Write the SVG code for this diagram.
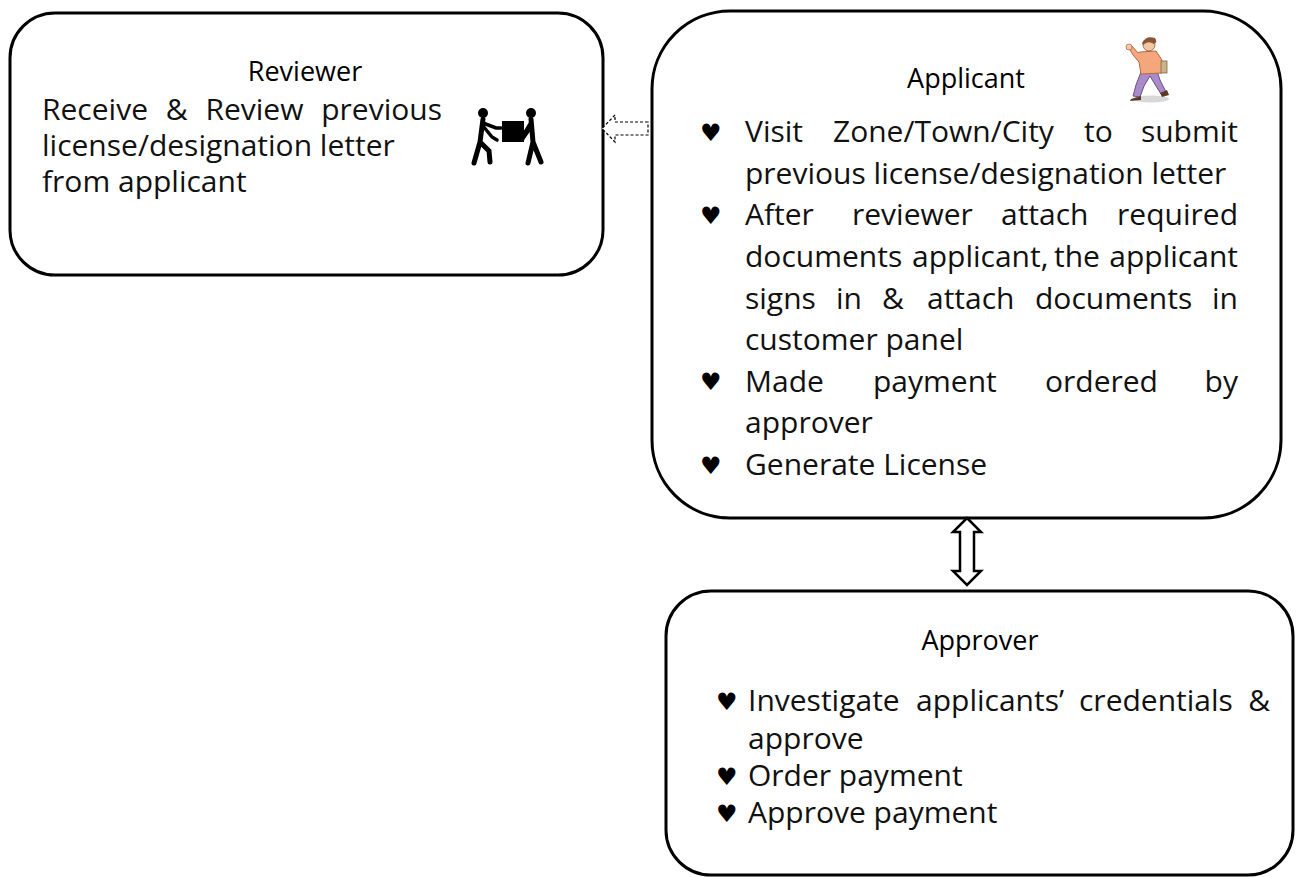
<svg xmlns="http://www.w3.org/2000/svg" width="1298" height="877" viewBox="0 0 1298 877">
  <style>
    .box { fill: #ffffff; stroke: #000000; stroke-width: 3; }
    .title { font-family: "Open Sans", "DejaVu Sans", sans-serif; font-size: 27px; fill: #000; text-anchor: middle; }
    .body { font-family: "Open Sans", "DejaVu Sans", sans-serif; font-size: 30px; fill: #111; }
    .end { text-anchor: end; }
    .bullet { font-family: "DejaVu Sans", sans-serif; font-size: 24px; fill: #000; }
    .dashed { fill: #ffffff; stroke: #000; stroke-width: 1.2; stroke-dasharray: 3 2; }
    .hollow { fill: #ffffff; stroke: #000; stroke-width: 2.5; stroke-linejoin: miter; }
  </style>
  <rect width="1298" height="877" fill="#ffffff"/>

  <!-- Reviewer -->
  <g id="reviewer">
    <rect class="box" x="10" y="13" width="593" height="262" rx="45" ry="45"/>
    <text class="title" x="305" y="81">Reviewer</text>
    <text class="body" x="42" y="120" word-spacing="10">Receive &amp; Review previous</text>
    <text class="body" x="42" y="156">license/designation letter</text>
    <text class="body" x="42" y="192">from applicant</text>
    <!-- two people carrying a box -->
    <g fill="#000" stroke="#000" stroke-linecap="round">
      <circle cx="483" cy="113" r="5" stroke="none"/>
      <circle cx="531" cy="113" r="5" stroke="none"/>
      <rect x="502" y="121" width="22" height="21" stroke="none"/>
      <path d="M483 119 L480 142 L474 163 M480 142 L489 151 L490 162" fill="none" stroke-width="5"/>
      <path d="M483 123 L496 128 L501 128 M483 126 L492 137 L497 140" fill="none" stroke-width="3.5"/>
      <path d="M531 119 L533 142 L528 163 M533 142 L541 162" fill="none" stroke-width="5"/>
      <path d="M530 124 L524 134 L520 140 M531 127 L522 140" fill="none" stroke-width="3.5"/>
    </g>
  </g>

  <!-- Applicant -->
  <g id="applicant">
    <rect class="box" x="652" y="11" width="629" height="507" rx="78" ry="78"/>
    <text class="title" x="966" y="88">Applicant</text>
    <!-- walking man -->
    <g>
      <ellipse cx="1151" cy="99" rx="18" ry="3.5" fill="#d8d8d8"/>
      <path d="M1141 72 L1136 85 L1133 96 L1140 97 L1144 86 L1150 76 L1156 86 L1161 94 L1166 92 L1160 80 L1157 71 Z" fill="#a98bc9" stroke="#6b4f8a" stroke-width="1"/>
      <path d="M1131 99 L1141 96 L1141 100 L1130 101 Z" fill="#5a3a25"/>
      <path d="M1160 93 L1167 90 L1169 95 L1162 97 Z" fill="#5a3a25"/>
      <path d="M1140 52 L1156 51 L1162 60 L1162 73 L1141 74 L1139 62 L1133 55 L1129 48 L1132 46 L1138 53 Z" fill="#f4a77d" stroke="#b8683d" stroke-width="1"/>
      <rect x="1161" y="61" width="6" height="12" fill="#c9b48a" stroke="#7d6a45" stroke-width="0.8"/>
      <circle cx="1129" cy="47" r="3" fill="#f6c9a8" stroke="#b07050" stroke-width="0.8"/>
      <circle cx="1149" cy="45" r="6" fill="#f2c6a3" stroke="#8a5a3a" stroke-width="0.8"/>
      <path d="M1142 43 Q1146 35 1155 38 Q1158 42 1154 44 Q1148 40 1143 45 Z" fill="#8a5536"/>
    </g>
    <g class="bullet">
      <text x="700" y="141">♥</text>
      <text x="700" y="224">♥</text>
      <text x="700" y="390">♥</text>
      <text x="700" y="474">♥</text>
    </g>
    <g class="body">
      <text x="745" y="142">Visit</text>
      <text x="833" y="142">Zone/Town/City</text>
      <text x="1084" y="142">to</text>
      <text class="end" x="1238" y="142">submit</text>
      <text x="745" y="184">previous license/designation letter</text>
      <text x="745" y="225">After</text>
      <text x="852" y="225">reviewer</text>
      <text x="1001" y="225">attach</text>
      <text class="end" x="1238" y="225">required</text>
      <text x="745" y="267">documents</text>
      <text x="912" y="267">applicant,</text>
      <text x="1054" y="267">the</text>
      <text class="end" x="1238" y="267">applicant</text>
      <text x="745" y="309">signs</text>
      <text x="836" y="309">in</text>
      <text x="882" y="309">&amp;</text>
      <text x="927" y="309">attach</text>
      <text x="1035" y="309">documents</text>
      <text class="end" x="1238" y="309">in</text>
      <text x="745" y="350">customer panel</text>
      <text x="745" y="392">Made</text>
      <text x="873" y="392">payment</text>
      <text x="1045" y="392">ordered</text>
      <text class="end" x="1238" y="392">by</text>
      <text x="745" y="433">approver</text>
      <text x="745" y="475">Generate License</text>
    </g>
  </g>

  <!-- Approver -->
  <g id="approver">
    <rect class="box" x="666" y="591" width="627" height="284" rx="45" ry="45"/>
    <text class="title" x="980" y="650">Approver</text>
    <g class="bullet">
      <text x="716" y="710">♥</text>
      <text x="716" y="785">♥</text>
      <text x="716" y="822">♥</text>
    </g>
    <g class="body">
      <text x="748" y="711">Investigate</text>
      <text x="916" y="711">applicants’</text>
      <text x="1079" y="711">credentials</text>
      <text class="end" x="1270" y="711">&amp;</text>
      <text x="748" y="749">approve</text>
      <text x="748" y="786">Order payment</text>
      <text x="748" y="823">Approve payment</text>
    </g>
  </g>

  <!-- Connectors -->
  <g id="connectors">
    <!-- dashed block arrow pointing at the reviewer -->
    <path class="dashed" d="M648 122 L615 122 L615 115 L602 128.5 L615 142 L615 135 L648 135 Z"/>
    <!-- two-way block arrow between applicant and approver -->
    <path class="hollow" d="M967 518 L981 532 L974 532 L974 571 L981 571 L967 585 L953 571 L960 571 L960 532 L953 532 Z"/>
  </g>
</svg>
